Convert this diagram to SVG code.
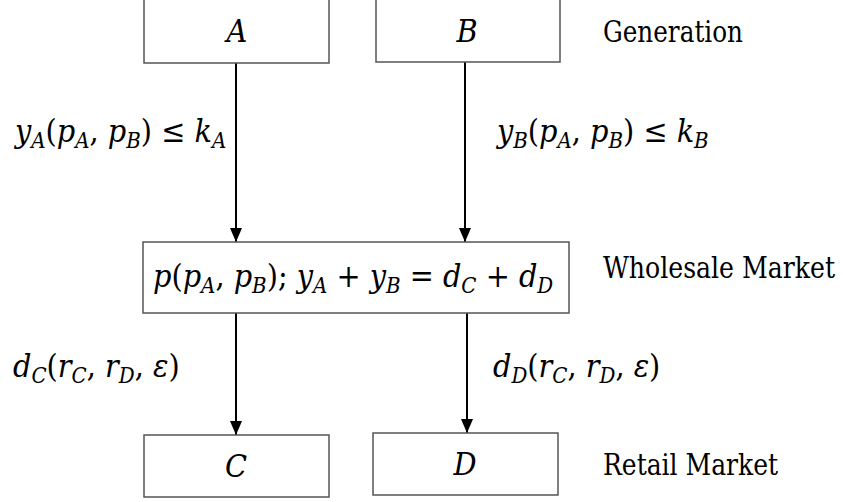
<svg xmlns="http://www.w3.org/2000/svg" width="843" height="502" viewBox="0 0 843 502">
<style>
.box{fill:#fff;stroke:#555;stroke-width:1.5}
.conn{stroke:#000;stroke-width:2;fill:none}
text{font-family:'DejaVu Serif Condensed','DejaVu Serif',serif;font-stretch:condensed;fill:#000}
.m{font-size:32px}
.i{font-style:italic}
.s{font-style:italic;font-size:22px}
.lbl{font-size:29px}
</style>
<defs>
<marker id="arr" markerUnits="userSpaceOnUse" markerWidth="14" markerHeight="12" refX="14" refY="6" orient="auto">
<path d="M0,0 L14,6 L0,12 z" fill="#000"/>
</marker>
</defs>
<g id="connectors">
<line class="conn" x1="236" y1="63" x2="236" y2="242" marker-end="url(#arr)"/>
<line class="conn" x1="465" y1="62" x2="465" y2="242" marker-end="url(#arr)"/>
<line class="conn" x1="236" y1="313" x2="236" y2="435" marker-end="url(#arr)"/>
<line class="conn" x1="467" y1="313" x2="467" y2="433" marker-end="url(#arr)"/>
<text class="m" x="15" y="142" xml:space="preserve"><tspan class="i">y</tspan><tspan class="s" dy="6">A</tspan><tspan dy="-6">(</tspan><tspan class="i">p</tspan><tspan class="s" dy="6">A</tspan><tspan dy="-6">, </tspan><tspan class="i">p</tspan><tspan class="s" dy="6">B</tspan><tspan dy="-6">) ≤ </tspan><tspan class="i">k</tspan><tspan class="s" dy="6">A</tspan></text>
<text class="m" x="497" y="142" xml:space="preserve"><tspan class="i">y</tspan><tspan class="s" dy="6">B</tspan><tspan dy="-6">(</tspan><tspan class="i">p</tspan><tspan class="s" dy="6">A</tspan><tspan dy="-6">, </tspan><tspan class="i">p</tspan><tspan class="s" dy="6">B</tspan><tspan dy="-6">) ≤ </tspan><tspan class="i">k</tspan><tspan class="s" dy="6">B</tspan></text>
<text class="m" x="13" y="377" xml:space="preserve"><tspan class="i">d</tspan><tspan class="s" dy="6">C</tspan><tspan dy="-6">(</tspan><tspan class="i">r</tspan><tspan class="s" dy="6">C</tspan><tspan dy="-6">, </tspan><tspan class="i">r</tspan><tspan class="s" dy="6">D</tspan><tspan dy="-6">, </tspan><tspan class="i">ε</tspan><tspan>)</tspan></text>
<text class="m" x="493" y="377" xml:space="preserve"><tspan class="i">d</tspan><tspan class="s" dy="6">D</tspan><tspan dy="-6">(</tspan><tspan class="i">r</tspan><tspan class="s" dy="6">C</tspan><tspan dy="-6">, </tspan><tspan class="i">r</tspan><tspan class="s" dy="6">D</tspan><tspan dy="-6">, </tspan><tspan class="i">ε</tspan><tspan>)</tspan></text>
</g>
<g id="nodeA">
<rect class="box" x="144" y="-2" width="185" height="65"/>
<text class="m i" x="237" y="42" text-anchor="middle">A</text>
</g>
<g id="nodeB">
<rect class="box" x="376" y="-2" width="184" height="64"/>
<text class="m i" x="467" y="42" text-anchor="middle">B</text>
</g>
<g id="nodeW">
<rect class="box" x="143" y="242" width="426" height="71"/>
<text class="m" x="153" y="287" xml:space="preserve"><tspan class="i">p</tspan><tspan>(</tspan><tspan class="i">p</tspan><tspan class="s" dy="6">A</tspan><tspan dy="-6">, </tspan><tspan class="i">p</tspan><tspan class="s" dy="6">B</tspan><tspan dy="-6">); </tspan><tspan class="i">y</tspan><tspan class="s" dy="6">A</tspan><tspan dy="-6"> + </tspan><tspan class="i">y</tspan><tspan class="s" dy="6">B</tspan><tspan dy="-6"> = </tspan><tspan class="i">d</tspan><tspan class="s" dy="6">C</tspan><tspan dy="-6"> + </tspan><tspan class="i">d</tspan><tspan class="s" dy="6">D</tspan></text>
</g>
<g id="nodeC">
<rect class="box" x="144" y="435" width="185" height="62"/>
<text class="m i" x="236" y="477" text-anchor="middle">C</text>
</g>
<g id="nodeD">
<rect class="box" x="373" y="433" width="185" height="62"/>
<text class="m i" x="465" y="475" text-anchor="middle">D</text>
</g>
<g id="levels">
<text class="lbl" x="603" y="42" textLength="140" lengthAdjust="spacingAndGlyphs">Generation</text>
<text class="lbl" x="603" y="278" textLength="232" lengthAdjust="spacingAndGlyphs">Wholesale Market</text>
<text class="lbl" x="603" y="475" textLength="175" lengthAdjust="spacingAndGlyphs">Retail Market</text>
</g>
</svg>
